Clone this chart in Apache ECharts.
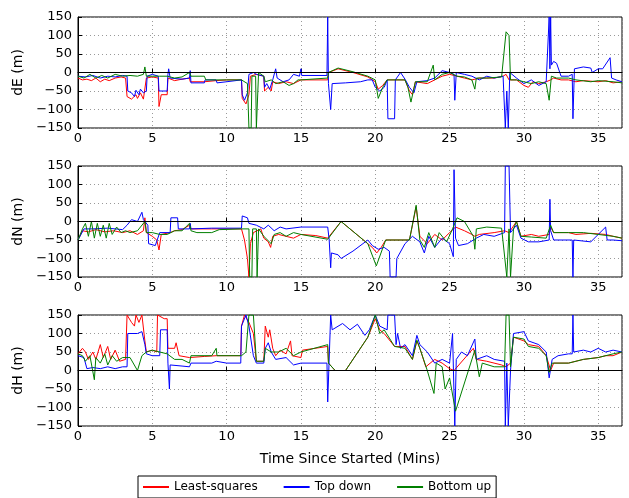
<!DOCTYPE html>
<html><head><meta charset="utf-8">
<script src="https://cdn.jsdelivr.net/npm/echarts@6/dist/echarts.min.js"></script>
<style>html,body{margin:0;padding:0;background:#fff}#c{width:629px;height:498px}</style>
</head><body><div id="c"></div>
<script>
// ---- Data: [time (mins), error (m)] ----
const seriesNames = ['Least-squares', 'Top down', 'Bottom up'];
const panelNames = ['dE (m)', 'dN (m)', 'dH (m)'];
const yTicks = [-150, -100, -50, 0, 50, 100, 150];
const xTicks = [0, 5, 10, 15, 20, 25, 30, 35];

const dE_ls = [[0,-15],[0.3,-20],[0.6,-18],[0.9,-22],[1.2,-15],[1.5,-25],[1.8,-18],[2.1,-22],[2.5,-15],[2.9,-12],[3.2,-15],[3.3,-65],[3.6,-72],[3.9,-60],[4.0,-70],[4.2,-55],[4.4,-72],[4.6,-15],[5.0,-12],[5.4,-15],[5.45,-92],[5.6,-60],[6.0,-60],[6.05,-15],[6.5,-22],[7.0,-18],[7.5,-15],[7.55,-25],[8.5,-25],[8.55,-20],[9.3,-22],[10.0,-20],[11.0,-20],[11.05,-70],[11.3,-85],[11.5,-60],[11.6,-10],[12.0,-5],[12.5,-10],[12.55,-50],[12.8,-40],[13.0,-50],[13.1,-25],[13.5,-30],[14.0,-25],[14.5,-30],[15.0,-20],[16.8,-20],[16.85,0],[17.5,10],[18.5,0],[19.5,-12],[20.0,-25],[20.2,-45],[20.5,-35],[20.8,-20],[22.0,-20],[22.3,-50],[22.5,-60],[22.7,-25],[23.5,-30],[24.0,-20],[24.5,-10],[25.0,-5],[25.5,-10],[26.0,-15],[26.5,-20],[27.0,-15],[28.0,-15],[28.6,-10],[28.8,-5],[29.0,-20],[29.5,-20],[30.0,-35],[30.3,-40],[30.6,-25],[31.0,-30],[31.5,-25],[31.8,-20],[32.0,-15],[32.5,-20],[33.0,-20],[33.5,-25],[34.0,-22],[35.0,-25],[35.5,-22],[36.0,-28],[36.6,-25]];
const dE_td = [[0,-10],[0.5,-12],[1.0,-8],[1.5,-15],[2.0,-10],[2.5,-12],[3.0,-8],[3.3,-10],[3.35,-50],[3.6,-55],[3.8,-65],[3.9,-48],[4.1,-60],[4.2,-45],[4.4,-55],[4.6,-50],[4.65,-10],[5.0,-5],[5.4,-10],[5.45,-50],[6.0,-50],[6.05,-5],[6.1,10],[6.2,-15],[7.0,-18],[7.5,-15],[7.55,5],[7.6,-28],[8.5,-28],[8.55,-20],[9.3,-20],[9.35,-28],[10.0,-25],[11.0,-20],[11.05,-60],[11.2,-75],[11.4,-55],[11.5,-5],[11.8,0],[12.0,-5],[12.5,-10],[12.55,-40],[12.7,-30],[12.9,-45],[13.1,-20],[13.3,10],[13.4,-15],[13.8,-25],[14.2,-20],[14.5,-5],[14.9,-10],[15.0,10],[15.05,-8],[16.75,-8],[16.8,150],[16.85,-30],[17.0,-100],[17.1,-30],[18.0,-28],[19.0,-25],[19.5,-20],[19.8,-20],[20.0,-40],[20.3,-50],[20.6,-40],[20.8,-20],[20.85,-125],[21.3,-125],[21.35,-20],[21.7,0],[22.0,-18],[22.3,-40],[22.6,-55],[22.8,-25],[23.5,-22],[24.0,-15],[24.5,5],[25.0,0],[25.3,-5],[25.35,-75],[25.45,0],[26.0,-5],[26.5,-10],[27.0,-20],[27.5,-10],[28.0,-15],[28.6,-10],[28.75,-150],[28.85,-50],[28.95,-150],[29.05,0],[29.5,-15],[30.0,-30],[30.5,-20],[31.0,-35],[31.5,-25],[31.7,150],[31.75,10],[31.8,150],[31.85,20],[32.0,30],[32.2,25],[32.5,-10],[33.0,-10],[33.25,-5],[33.3,-125],[33.4,10],[34.0,15],[34.5,12],[34.6,0],[35.0,10],[35.3,10],[35.8,40],[35.9,-15],[36.2,-20],[36.6,-25]];
const dE_bu = [[0,-10],[0.4,-15],[0.8,-5],[1.2,-15],[1.6,-8],[2.0,-15],[2.5,-5],[3.0,-10],[3.5,-8],[4.0,-10],[4.4,-5],[4.5,15],[4.6,-10],[5.0,-10],[5.5,-10],[6.0,-10],[6.5,-15],[7.0,-12],[7.5,0],[7.6,-10],[8.5,-10],[8.6,-20],[9.3,-20],[10.0,-20],[11.0,-20],[11.4,-30],[11.5,-150],[11.65,-150],[11.7,-10],[11.95,-10],[12.0,-150],[12.1,-150],[12.15,0],[12.5,-10],[12.6,-25],[13.0,-20],[13.3,-30],[13.8,-25],[14.2,-35],[14.5,-30],[14.8,-20],[15.0,-20],[16.8,-15],[16.85,0],[17.5,12],[18.5,2],[19.5,-10],[20.0,-20],[20.2,-70],[20.5,-40],[20.8,-20],[22.0,-20],[22.2,-40],[22.4,-80],[22.7,-25],[23.5,-25],[23.9,20],[24.0,-20],[24.5,-5],[25.0,0],[25.5,-10],[26.0,-12],[26.5,-20],[26.7,-45],[26.8,-15],[27.5,-15],[28.5,-12],[28.8,110],[29.0,100],[29.1,-20],[29.5,-20],[30.0,-25],[30.5,-30],[31.0,-25],[31.5,-30],[31.7,-75],[31.85,-10],[32.2,-15],[33.0,-15],[33.5,-20],[34.5,-25],[35.0,-22],[36.0,-25],[36.6,-28]];

const dN_ls = [[0,-50],[0.3,-25],[0.7,-28],[1.2,-22],[1.8,-28],[2.4,-25],[3.0,-30],[3.5,-25],[4.0,-35],[4.4,-25],[4.5,10],[4.6,-30],[5.0,-40],[5.3,-50],[5.45,-77],[5.6,-35],[6.2,-30],[6.5,-25],[7.0,-22],[7.5,-10],[7.6,-20],[9.0,-20],[11.0,-20],[11.2,-50],[11.4,-100],[11.5,-150],[11.6,-60],[11.8,-30],[12.3,-20],[12.5,-45],[12.8,-55],[12.96,-70],[13.1,-40],[13.5,-35],[14.0,-40],[14.5,-45],[15.0,-35],[16.0,-38],[16.8,-45],[17.7,0],[19.5,-60],[19.8,-70],[20.1,-85],[20.4,-70],[20.7,-50],[22.3,-50],[22.75,40],[23.0,-40],[23.5,-60],[24.0,-35],[24.5,-50],[25.0,-30],[25.4,-15],[26.0,-25],[26.5,-35],[26.7,-40],[27.0,-35],[28.0,-30],[28.7,-25],[29.0,-30],[29.5,0],[29.8,-40],[30.5,-35],[31.0,-40],[31.7,-35],[31.8,-15],[32.0,-30],[33.0,-30],[33.5,-35],[34.5,-32],[35.5,-35],[36.0,-40],[36.6,-45]];
const dN_td = [[0,-50],[0.4,-20],[1.0,-20],[2.0,-18],[3.0,-22],[3.3,-10],[3.6,5],[4.0,0],[4.3,25],[4.4,5],[4.7,-10],[4.75,-60],[5.2,-65],[5.5,-30],[6.2,-30],[6.25,10],[6.7,10],[6.75,-20],[7.5,-20],[7.55,-5],[7.6,-20],[9.0,-18],[11.0,-18],[11.05,15],[11.4,10],[11.5,-5],[12.0,-10],[12.5,-20],[12.8,-10],[13.2,-25],[13.6,-15],[14.0,-20],[15.0,-15],[16.8,-15],[16.9,-50],[17.0,-125],[17.05,-85],[17.5,-90],[17.7,-100],[18.5,-80],[19.5,-50],[19.8,-65],[20.2,-75],[20.6,-70],[20.95,-80],[21.0,-150],[21.4,-150],[21.45,-100],[22.0,-60],[22.5,-40],[23.0,-55],[23.3,-85],[23.6,-40],[24.0,-70],[24.5,-45],[25.0,-60],[25.25,-95],[25.3,140],[25.4,-45],[25.6,-65],[26.2,-60],[26.8,-45],[27.3,-35],[28.0,-40],[28.7,-30],[28.75,150],[29.0,150],[29.1,-30],[29.5,-10],[29.8,-45],[30.3,-55],[31.0,-55],[31.7,-50],[31.75,60],[31.8,-25],[32.0,-50],[33.25,-50],[33.3,-150],[33.35,-50],[34.5,-55],[35.5,-15],[35.6,-50],[36.0,-50],[36.6,-52]];
const dN_bu = [[0,-50],[0.3,-20],[0.5,-5],[0.7,-40],[0.9,0],[1.1,-45],[1.3,-5],[1.5,-40],[1.7,-10],[1.9,-45],[2.1,-5],[2.3,-35],[2.6,-15],[2.9,-30],[3.2,-25],[3.5,-30],[4.0,-25],[4.5,0],[4.6,-30],[5.0,-30],[5.5,-35],[6.0,-35],[6.5,-25],[7.0,-25],[7.5,-5],[7.6,-25],[8.0,-30],[9.0,-30],[9.5,-22],[11.0,-20],[11.5,-20],[11.55,-150],[11.7,-150],[11.75,-20],[12.0,-20],[12.05,-150],[12.1,-150],[12.15,-20],[12.5,-40],[13.0,-60],[13.2,-35],[13.6,-30],[14.0,-40],[14.5,-30],[15.0,-35],[16.8,-48],[17.7,0],[19.5,-60],[20.07,-120],[20.7,-50],[22.3,-50],[22.75,44],[23.0,-50],[23.3,-70],[23.6,-30],[24.0,-70],[24.3,-30],[24.8,-55],[25.2,-20],[25.5,10],[26.0,0],[26.6,-40],[26.7,-75],[26.8,-20],[27.5,-15],[28.5,-18],[28.85,-150],[29.0,-20],[29.1,-150],[29.3,-20],[29.5,0],[29.8,-40],[30.5,-42],[31.5,-45],[31.8,-10],[32.0,-30],[33.0,-30],[34.0,-30],[35.0,-35],[36.0,-40],[36.6,-45]];

const dH_ls = [[0,45],[0.3,60],[0.5,50],[0.7,30],[1.0,50],[1.2,30],[1.5,70],[1.7,35],[2.0,65],[2.2,30],[2.5,55],[2.8,25],[3.2,30],[3.3,150],[3.6,130],[3.8,120],[3.9,150],[4.1,130],[4.3,150],[4.5,80],[4.6,50],[5.0,55],[5.3,50],[5.35,150],[5.8,140],[6.0,140],[6.05,60],[6.5,60],[6.6,75],[6.8,40],[7.5,35],[8.5,38],[9.3,40],[10.0,40],[10.95,40],[11.0,120],[11.2,150],[11.5,130],[11.8,100],[12.0,25],[12.5,25],[12.6,120],[12.8,90],[12.9,110],[13.1,60],[13.3,40],[13.6,55],[14.0,45],[14.3,80],[14.4,40],[15.0,35],[15.1,55],[16.8,65],[16.85,20],[17.3,0],[18.0,0],[19.5,90],[20.0,140],[20.3,110],[20.6,100],[21.3,65],[22.0,65],[22.5,30],[22.8,80],[23.0,60],[23.4,10],[24.0,30],[24.5,20],[25.0,5],[25.3,0],[26.6,60],[26.8,30],[27.5,25],[28.5,15],[28.8,10],[29.1,20],[29.3,90],[30.0,80],[30.3,70],[31.0,65],[31.5,40],[31.8,0],[32.0,20],[33.0,20],[34.0,30],[35.0,35],[35.5,40],[36.0,40],[36.6,50]];
const dH_td = [[0,40],[0.4,35],[0.6,5],[1.0,8],[1.5,5],[2.0,10],[2.5,5],[3.0,10],[3.3,10],[3.35,100],[4.0,100],[4.3,105],[4.5,70],[4.6,45],[5.0,40],[5.5,40],[5.55,110],[6.0,110],[6.05,20],[6.15,-50],[6.2,15],[7.0,12],[7.5,10],[7.6,20],[9.0,20],[9.3,25],[10.0,20],[10.95,20],[11.0,120],[11.3,150],[11.5,120],[11.8,40],[12.0,20],[12.5,20],[12.6,60],[12.8,75],[13.0,50],[13.3,30],[14.0,35],[14.5,15],[15.0,20],[16.75,20],[16.8,-85],[17.0,150],[17.1,110],[17.8,127],[18.3,110],[18.8,125],[19.3,95],[19.6,110],[20.0,150],[20.3,120],[20.8,110],[20.85,150],[21.3,150],[21.4,70],[21.5,100],[21.7,60],[22.0,70],[22.5,40],[22.8,95],[23.0,70],[23.5,50],[24.0,20],[24.5,30],[25.0,20],[25.2,100],[25.35,-150],[25.45,30],[25.8,50],[26.2,40],[26.7,85],[26.8,30],[27.5,40],[28.0,30],[28.7,25],[28.75,-150],[28.85,20],[28.95,-150],[29.1,0],[29.3,100],[30.0,105],[30.3,80],[31.0,70],[31.5,50],[31.7,-20],[31.9,30],[32.3,40],[33.0,45],[33.25,45],[33.3,150],[33.35,50],[34.0,55],[34.5,50],[35.0,60],[35.5,50],[36.0,55],[36.6,50]];
const dH_bu = [[0,45],[0.3,40],[0.5,25],[0.8,40],[1.1,-25],[1.2,35],[1.5,20],[1.8,45],[2.0,15],[2.3,40],[2.6,25],[3.0,35],[3.5,35],[4.0,0],[4.3,40],[4.6,50],[5.0,55],[5.5,50],[6.0,45],[6.5,30],[7.0,30],[7.5,20],[7.6,40],[9.0,40],[9.3,60],[9.35,40],[11.0,40],[11.3,50],[11.5,150],[11.8,150],[12.0,25],[12.5,25],[12.6,60],[13.0,50],[13.5,50],[14.0,60],[14.5,40],[15.0,50],[15.1,55],[16.8,70],[16.85,20],[17.3,0],[18.0,0],[19.5,90],[20.0,150],[20.3,100],[20.6,110],[21.3,65],[22.0,60],[22.5,30],[22.8,82],[23.0,60],[23.5,0],[23.95,-62],[24.1,20],[24.5,10],[24.7,-50],[25.0,-20],[25.4,-110],[26.7,55],[26.8,30],[27.0,-17],[27.2,20],[28.0,10],[28.7,10],[28.8,150],[29.0,150],[29.1,10],[29.3,90],[30.0,85],[30.3,65],[31.0,60],[31.5,40],[31.7,-5],[31.9,20],[33.0,20],[34.0,30],[35.0,35],[36.0,45],[36.6,50]];

const panels = [[dE_ls, dE_td, dE_bu], [dN_ls, dN_td, dN_bu], [dH_ls, dH_td, dH_bu]];
const colors = ['#ff0000', '#0000ff', '#007f00'];

// ---- Chart ----
const FONT = 'DejaVu Sans';
const gridTops = [17, 166, 315];
const minus = v => String(v).replace('-', '\u2212');
const grids = [], xAxes = [], yAxes = [], series = [];
gridTops.forEach((top, i) => {
  grids.push({left: 78, top: top, width: 544, height: 111, show: true, borderColor: '#000', borderWidth: 1, backgroundColor: '#fff'});
  xAxes.push({
    type: 'value', gridIndex: i, min: xTicks[0], max: 36.6, interval: 5,
    axisLine: {show: true, lineStyle: {color: '#000'}},
    axisTick: {inside: true, length: 4, lineStyle: {color: '#000'}},
    axisLabel: {color: '#000', fontFamily: FONT, fontSize: 13, margin: 4, showMaxLabel: false},
    splitLine: {show: true, lineStyle: {color: '#999', type: [1, 3], width: 1}},
    name: i === 2 ? 'Time Since Started (Mins)' : '', nameLocation: 'middle', nameGap: 26,
    nameTextStyle: {color: '#000', fontFamily: FONT, fontSize: 14}
  });
  yAxes.push({
    type: 'value', gridIndex: i, min: yTicks[0], max: yTicks[yTicks.length - 1], interval: 50,
    axisLine: {show: true, lineStyle: {color: '#000'}},
    axisTick: {inside: true, length: 4, lineStyle: {color: '#000'}},
    axisLabel: {color: '#000', fontFamily: FONT, fontSize: 13, margin: 6, formatter: minus},
    splitLine: {show: true, lineStyle: {color: '#999', type: [1, 3], width: 1}},
    name: panelNames[i], nameLocation: 'middle', nameRotate: 90, nameGap: 44,
    nameTextStyle: {color: '#000', fontFamily: FONT, fontSize: 14}
  });
  panels[i].forEach((data, k) => {
    const s = {
      name: seriesNames[k], type: 'line', xAxisIndex: i, yAxisIndex: i, data: data,
      showSymbol: false, symbol: 'none', clip: true, animation: false,
      lineStyle: {color: colors[k], width: 1}, itemStyle: {color: colors[k]}, z: 2 + k
    };
    if (k === 0) {
      s.markLine = {silent: true, symbol: 'none', label: {show: false}, animation: false,
        lineStyle: {color: '#000', width: 1, type: 'solid'}, data: [{yAxis: 0}]};
    }
    series.push(s);
  });
});

const chart = echarts.init(document.getElementById('c'), null, {renderer: 'canvas'});
chart.setOption({
  animation: false,
  backgroundColor: '#fff',
  color: colors,
  grid: grids, xAxis: xAxes, yAxis: yAxes, series: series,
  legend: {
    data: seriesNames, left: 138, top: 476, orient: 'horizontal',
    borderColor: '#000', borderWidth: 1, padding: [5, 5, 5, 5], itemGap: 26,
    itemWidth: 26, itemHeight: 2, icon: 'rect',
    textStyle: {color: '#000', fontFamily: FONT, fontSize: 12}
  }
});
</script></body></html>
